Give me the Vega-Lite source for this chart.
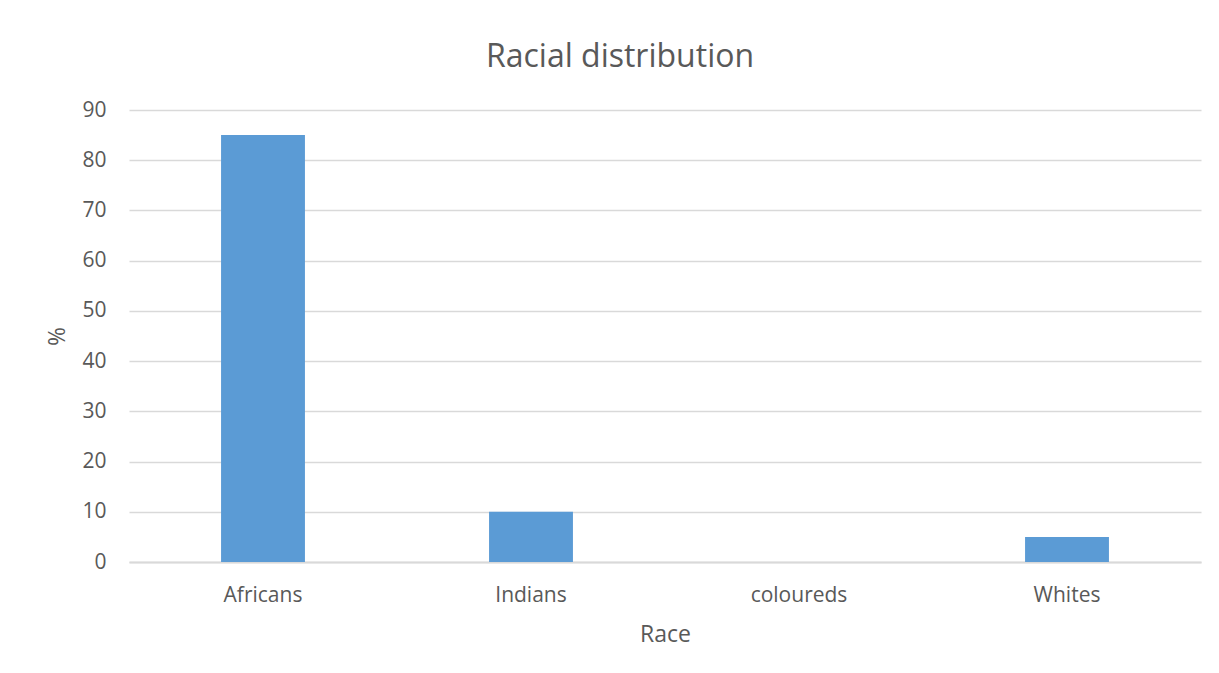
{
  "$schema": "https://vega.github.io/schema/vega-lite/v6.json",
  "autosize": {"type": "none"},
  "width": 1072,
  "height": 452,
  "padding": {"left": 129, "top": 110, "right": 18, "bottom": 111},
  "background": "white",
  "title": {
    "text": "Racial distribution",
    "font": "Open Sans",
    "fontSize": 32,
    "fontWeight": "normal",
    "color": "#595959",
    "anchor": "middle",
    "frame": "group",
    "dx": -45,
    "offset": 25
  },
  "data": {
    "values": [
      {"race": "Africans", "pct": 85},
      {"race": "Indians", "pct": 10},
      {"race": "coloureds", "pct": 0},
      {"race": "Whites", "pct": 5}
    ]
  },
  "mark": {"type": "bar", "color": "#5b9bd5"},
  "encoding": {
    "x": {
      "field": "race",
      "type": "nominal",
      "sort": null,
      "scale": {"paddingInner": 0.687, "paddingOuter": 0.3435},
      "axis": {
        "title": "Race",
        "labelAngle": 0,
        "labelFont": "Open Sans",
        "labelFontSize": 21,
        "labelColor": "#595959",
        "labelBaseline": "alphabetic",
        "labelPadding": 39,
        "ticks": false,
        "tickSize": 0,
        "domainColor": "#d9d9d9",
        "domainWidth": 1.8,
        "titleFont": "Open Sans",
        "titleFontSize": 23,
        "titleFontWeight": "normal",
        "titleColor": "#595959",
        "titleBaseline": "alphabetic",
        "titleY": 79
      }
    },
    "y": {
      "field": "pct",
      "type": "quantitative",
      "scale": {"domain": [0, 90], "nice": false},
      "axis": {
        "title": "%",
        "values": [0, 10, 20, 30, 40, 50, 60, 70, 80, 90],
        "labelFont": "Open Sans",
        "labelFontSize": 21,
        "labelColor": "#595959",
        "labelPadding": 23,
        "ticks": false,
        "tickSize": 0,
        "domain": false,
        "grid": true,
        "gridColor": "#d9d9d9",
        "gridWidth": 1.3,
        "titleFont": "Open Sans",
        "titleFontSize": 23,
        "titleFontWeight": "normal",
        "titleColor": "#595959",
        "titleAngle": -90,
        "titleBaseline": "middle",
        "titleAlign": "center",
        "titleX": -72,
        "titleY": 226
      }
    }
  },
  "config": {"view": {"stroke": null}}
}
